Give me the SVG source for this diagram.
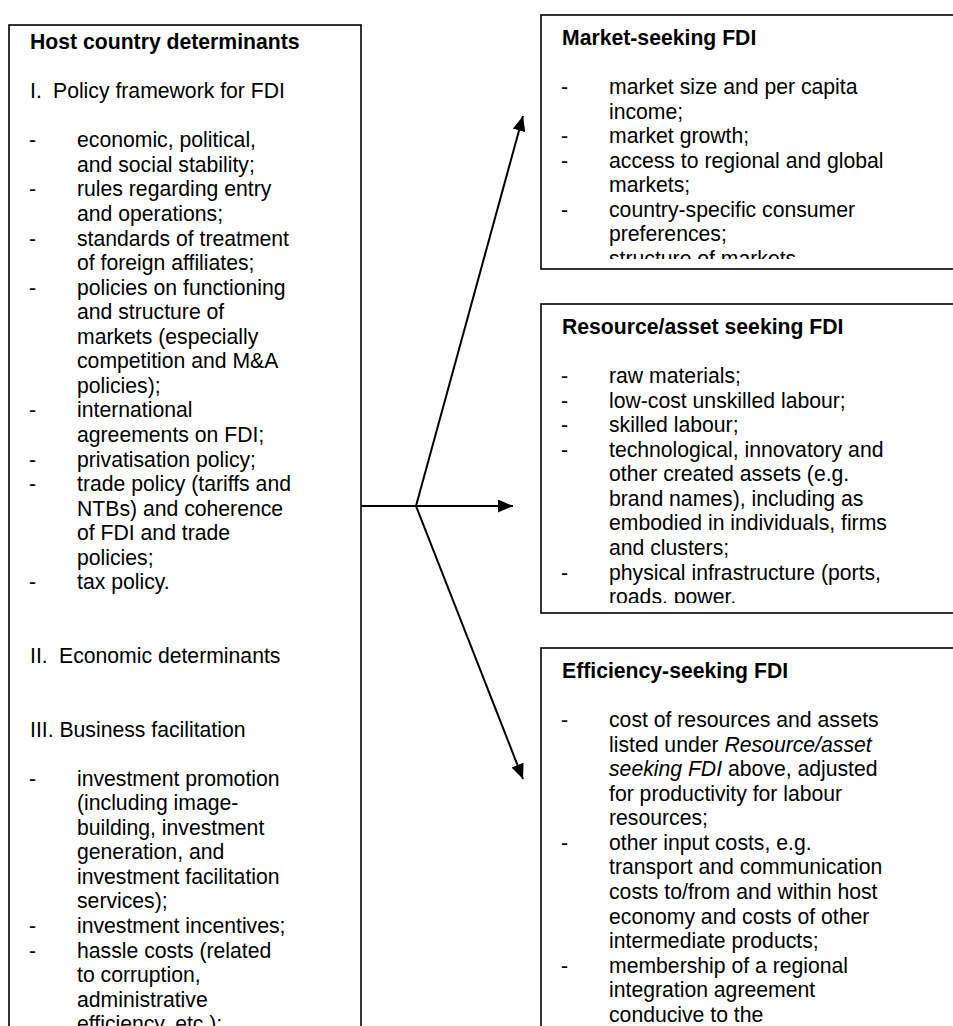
<svg xmlns="http://www.w3.org/2000/svg" width="953" height="1026" viewBox="0 0 953 1026">
<style>
.box{fill:#fff;stroke:#000;stroke-width:1.6}
.t{font-family:"Liberation Sans",Arial,sans-serif;font-size:21.2px;fill:#000}
.b{font-weight:bold}
.i{font-style:italic}
.conn{stroke:#000;stroke-width:2;fill:none}
</style>
<defs>
<marker id="ah" markerUnits="userSpaceOnUse" markerWidth="16" markerHeight="13" refX="15" refY="6.5" orient="auto">
<path d="M0,0 L15,6.5 L0,13 z" fill="#000"/>
</marker>
<clipPath id="cm"><rect x="541" y="15" width="420" height="244"/></clipPath>
<clipPath id="cr"><rect x="541" y="304" width="420" height="299"/></clipPath>
<clipPath id="ce"><rect x="541" y="648" width="420" height="374"/></clipPath>
</defs>
<rect width="953" height="1026" fill="#fff"/>

<g id="host">
<rect class="box" x="9" y="25" width="352" height="1040"/>
<text class="t b" x="30" y="49.1">Host country determinants</text>
<text class="t" x="30" y="98.2">I.</text><text class="t" x="53" y="98.2">Policy framework for FDI</text>
<g class="t">
<text x="29" y="147.3">-</text><text x="77" y="147.3">economic, political,</text>
<text x="77" y="171.9">and social stability;</text>
<text x="29" y="196.4">-</text><text x="77" y="196.4">rules regarding entry</text>
<text x="77" y="221">and operations;</text>
<text x="29" y="245.5">-</text><text x="77" y="245.5">standards of treatment</text>
<text x="77" y="270">of foreign affiliates;</text>
<text x="29" y="294.6">-</text><text x="77" y="294.6">policies on functioning</text>
<text x="77" y="319.2">and structure of</text>
<text x="77" y="343.7">markets (especially</text>
<text x="77" y="368.3">competition and M&amp;A</text>
<text x="77" y="392.8">policies);</text>
<text x="29" y="417.4">-</text><text x="77" y="417.4">international</text>
<text x="77" y="441.9">agreements on FDI;</text>
<text x="29" y="466.5">-</text><text x="77" y="466.5">privatisation policy;</text>
<text x="29" y="491">-</text><text x="77" y="491">trade policy (tariffs and</text>
<text x="77" y="515.6">NTBs) and coherence</text>
<text x="77" y="540.1">of FDI and trade</text>
<text x="77" y="564.7">policies;</text>
<text x="29" y="589.2">-</text><text x="77" y="589.2">tax policy.</text>
<text x="30" y="662.9">II.</text><text x="59" y="662.9">Economic determinants</text>
<text x="30" y="736.5">III. Business facilitation</text>
<text x="29" y="785.6">-</text><text x="77" y="785.6">investment promotion</text>
<text x="77" y="810.2">(including image-</text>
<text x="77" y="834.8">building, investment</text>
<text x="77" y="859.3">generation, and</text>
<text x="77" y="883.9">investment facilitation</text>
<text x="77" y="908.4">services);</text>
<text x="29" y="933">-</text><text x="77" y="933">investment incentives;</text>
<text x="29" y="957.5">-</text><text x="77" y="957.5">hassle costs (related</text>
<text x="77" y="982">to corruption,</text>
<text x="77" y="1006.6">administrative</text>
<text x="77" y="1031.2">efficiency, etc.);</text>
</g>
</g>

<g id="market">
<rect class="box" x="541" y="15" width="430" height="254"/>
<g clip-path="url(#cm)" class="t">
<text class="b" x="562" y="45">Market-seeking FDI</text>
<text x="561" y="94.1">-</text><text x="609" y="94.1">market size and per capita</text>
<text x="609" y="118.7">income;</text>
<text x="561" y="143.2">-</text><text x="609" y="143.2">market growth;</text>
<text x="561" y="167.8">-</text><text x="609" y="167.8">access to regional and global</text>
<text x="609" y="192.3">markets;</text>
<text x="561" y="216.9">-</text><text x="609" y="216.9">country-specific consumer</text>
<text x="609" y="241.4">preferences;</text>
<text x="561" y="266">-</text><text x="609" y="266">structure of markets.</text>
</g>
</g>

<g id="resource">
<rect class="box" x="541" y="304" width="430" height="309"/>
<g clip-path="url(#cr)" class="t">
<text class="b" x="562" y="334">Resource/asset seeking FDI</text>
<text x="561" y="383.1">-</text><text x="609" y="383.1">raw materials;</text>
<text x="561" y="407.7">-</text><text x="609" y="407.7">low-cost unskilled labour;</text>
<text x="561" y="432.2">-</text><text x="609" y="432.2">skilled labour;</text>
<text x="561" y="456.8">-</text><text x="609" y="456.8">technological, innovatory and</text>
<text x="609" y="481.3">other created assets (e.g.</text>
<text x="609" y="505.9">brand names), including as</text>
<text x="609" y="530.4">embodied in individuals, firms</text>
<text x="609" y="555">and clusters;</text>
<text x="561" y="579.5">-</text><text x="609" y="579.5">physical infrastructure (ports,</text>
<text x="609" y="604.1">roads, power,</text>
</g>
</g>

<g id="efficiency">
<rect class="box" x="541" y="648" width="430" height="390"/>
<g clip-path="url(#ce)" class="t">
<text class="b" x="562" y="678">Efficiency-seeking FDI</text>
<text x="561" y="727.1">-</text><text x="609" y="727.1">cost of resources and assets</text>
<text x="609" y="751.7">listed under <tspan class="i">Resource/asset</tspan></text>
<text x="609" y="776.2"><tspan class="i">seeking FDI</tspan> above, adjusted</text>
<text x="609" y="800.8">for productivity for labour</text>
<text x="609" y="825.3">resources;</text>
<text x="561" y="849.9">-</text><text x="609" y="849.9">other input costs, e.g.</text>
<text x="609" y="874.4">transport and communication</text>
<text x="609" y="899">costs to/from and within host</text>
<text x="609" y="923.5">economy and costs of other</text>
<text x="609" y="948.1">intermediate products;</text>
<text x="561" y="972.6">-</text><text x="609" y="972.6">membership of a regional</text>
<text x="609" y="997.2">integration agreement</text>
<text x="609" y="1021.7">conducive to the</text>
</g>
</g>

<g id="connectors">
<path class="conn" d="M361,506 L416,506" />
<path class="conn" d="M416,506 L513,506" marker-end="url(#ah)"/>
<path class="conn" d="M416,506 L523,116" marker-end="url(#ah)"/>
<path class="conn" d="M416,506 L523,779" marker-end="url(#ah)"/>
</g>
</svg>
